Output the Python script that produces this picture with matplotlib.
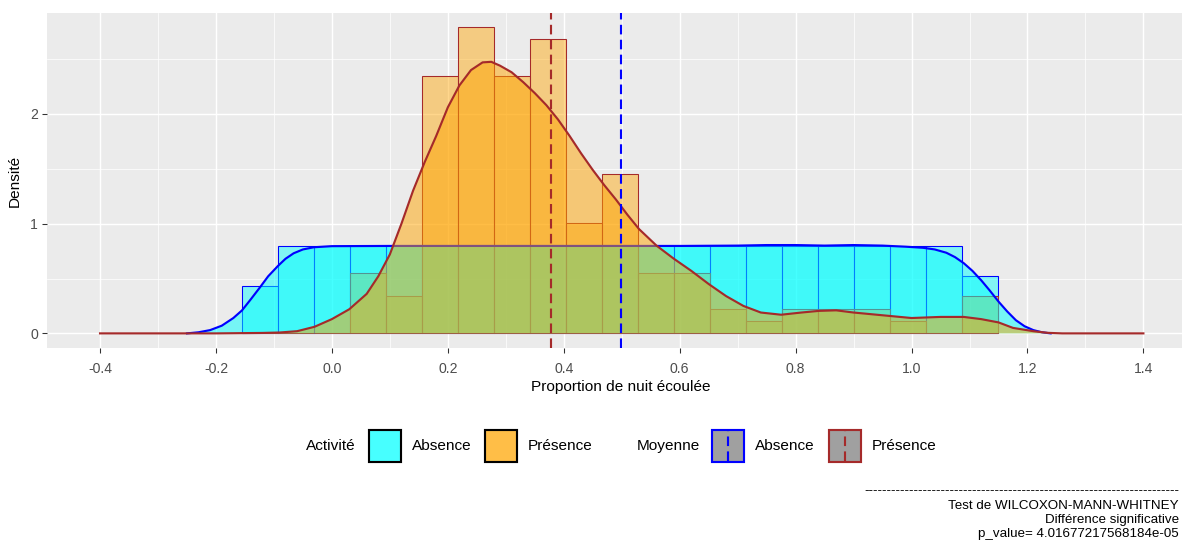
"""
Distribution of activity timing over the night: histogram + density
for nights with/without presence, with group means and the WMW test result.
"""

import numpy as np
import matplotlib.pyplot as plt
from matplotlib.patches import Rectangle
from matplotlib.lines import Line2D
from matplotlib.colors import to_rgba

plt.rcParams['font.family'] = ['Liberation Sans', 'DejaVu Sans']
plt.rcParams['axes.unicode_minus'] = False

W, H, DPI = 1182, 542, 96

# Histogram bins (ggplot-style, 21 bins)
bin_start = -0.155
bin_width = 0.0621
n_bins = 21

absence_hist = [0.43, 0.80, 0.80, 0.80, 0.80, 0.80, 0.80, 0.80, 0.80, 0.80, 0.80,
                0.80, 0.80, 0.80, 0.80, 0.80, 0.80, 0.80, 0.80, 0.80, 0.52]
presence_hist = [0.0, 0.0, 0.0, 0.55, 0.34, 2.35, 2.79, 2.35, 2.68, 1.01, 1.45,
                 0.55, 0.55, 0.22, 0.11, 0.22, 0.22, 0.22, 0.11, 0.0, 0.34]

# Kernel density estimates
absence_dens_x = [-0.25, -0.23, -0.21, -0.19, -0.17, -0.155, -0.14, -0.124, -0.11, -0.093,
                  -0.08, -0.066, -0.05, -0.031, 0.0, 0.1, 0.2, 0.3, 0.4, 0.5, 0.6, 0.7,
                  0.75, 0.8, 0.85, 0.9, 0.95, 0.99, 1.02, 1.04, 1.06, 1.075, 1.09, 1.105,
                  1.12, 1.135, 1.15, 1.165, 1.18, 1.195, 1.21, 1.225, 1.24]
absence_dens_y = [0.0, 0.01, 0.03, 0.07, 0.14, 0.21, 0.31, 0.42, 0.52, 0.615,
                  0.68, 0.73, 0.765, 0.785, 0.795, 0.797, 0.797, 0.797, 0.797, 0.797, 0.797, 0.80,
                  0.805, 0.805, 0.80, 0.805, 0.80, 0.79, 0.78, 0.765, 0.735, 0.695, 0.64, 0.57,
                  0.485, 0.39, 0.29, 0.20, 0.12, 0.065, 0.03, 0.01, 0.0]

presence_dens_x = [-0.40, -0.20, -0.12, -0.09, -0.06, -0.03, 0.0, 0.03, 0.06, 0.08, 0.10,
                   0.12, 0.14, 0.16, 0.18, 0.20, 0.22, 0.24, 0.26, 0.275, 0.29, 0.31,
                   0.33, 0.35, 0.37, 0.39, 0.41, 0.43, 0.45, 0.47, 0.49, 0.51, 0.53,
                   0.56, 0.59, 0.62, 0.65, 0.68, 0.71, 0.74, 0.775, 0.81, 0.84, 0.87,
                   0.90, 0.93, 0.96, 1.00, 1.05, 1.09, 1.12, 1.15, 1.175, 1.21, 1.235,
                   1.26, 1.40]
presence_dens_y = [0.0, 0.0, 0.004, 0.008, 0.02, 0.06, 0.13, 0.22, 0.36, 0.52, 0.72,
                   1.00, 1.30, 1.56, 1.80, 2.06, 2.26, 2.40, 2.47, 2.475, 2.44, 2.38,
                   2.29, 2.19, 2.08, 1.95, 1.80, 1.64, 1.49, 1.35, 1.22, 1.08, 0.95,
                   0.80, 0.68, 0.57, 0.45, 0.34, 0.25, 0.19, 0.17, 0.19, 0.205, 0.21,
                   0.19, 0.175, 0.16, 0.14, 0.15, 0.15, 0.13, 0.10, 0.05, 0.02, 0.005,
                   0.0, 0.0]

mean_absence = 0.499
mean_presence = 0.378

x_ticks = [-0.4, -0.2, 0.0, 0.2, 0.4, 0.6, 0.8, 1.0, 1.2, 1.4]
x_ticklabels = ['-0.4', '-0.2', '0.0', '0.2', '0.4', '0.6', '0.8', '1.0', '1.2', '1.4']
y_ticks = [0, 1, 2]

caption_lines = [
    '-' * 70,
    'Test de WILCOXON-MANN-WHITNEY',
    'Différence significative',
    'p_value= 4.01677217568184e-05',
]

COL_ABS = '#00FFFF'
COL_PRE = '#FFA500'
LINE_ABS = '#0000FF'
LINE_PRE = '#A52A2A'
PANEL_BG = '#EBEBEB'


def fx(px):
    return px / W


def fy(py):
    return 1 - py / H


def draw_panel(ax):
    ax.set_facecolor(PANEL_BG)
    for s in ax.spines.values():
        s.set_visible(False)

    edges = bin_start + bin_width * np.arange(n_bins)

    ax.bar(edges, absence_hist, width=bin_width, align='edge',
           facecolor=to_rgba(COL_ABS, 0.45), edgecolor=LINE_ABS, linewidth=0.8, zorder=2)
    ax.bar(edges, presence_hist, width=bin_width, align='edge',
           facecolor=to_rgba(COL_PRE, 0.45), edgecolor=LINE_PRE, linewidth=0.8, zorder=3)

    ax.fill_between(absence_dens_x, absence_dens_y, 0, facecolor=COL_ABS, alpha=0.5,
                    linewidth=0, zorder=4)
    ax.plot(absence_dens_x, absence_dens_y, color=LINE_ABS, linewidth=1.6, zorder=5)
    ax.fill_between(presence_dens_x, presence_dens_y, 0, facecolor=COL_PRE, alpha=0.5,
                    linewidth=0, zorder=6)
    ax.plot(presence_dens_x, presence_dens_y, color=LINE_PRE, linewidth=1.6, zorder=7)

    ax.axvline(mean_absence, color=LINE_ABS, linewidth=1.6, dashes=(4.5, 2.5), zorder=8)
    ax.axvline(mean_presence, color=LINE_PRE, linewidth=1.6, dashes=(4.5, 2.5), zorder=8)

    ax.set_xlim(-0.492, 1.489)
    ax.set_ylim(-0.136, 2.92)

    ax.set_xticks(x_ticks)
    ax.set_xticklabels(x_ticklabels)
    ax.set_xticks(np.array(x_ticks[:-1]) + 0.1, minor=True)
    ax.set_yticks(y_ticks)
    ax.set_yticks([0.5, 1.5, 2.5], minor=True)

    ax.grid(True, which='major', color='white', linewidth=1.1, zorder=0)
    ax.grid(True, which='minor', color='white', linewidth=0.55, zorder=0)
    ax.set_axisbelow(True)
    ax.tick_params(which='major', length=3.5, width=0.8, color='#333333',
                   labelsize=10.5, labelcolor='#4D4D4D')
    ax.tick_params(axis='x', which='major', pad=7)
    ax.tick_params(axis='y', which='major', pad=3)
    ax.tick_params(which='minor', length=0)

    ax.set_xlabel('Proportion de nuit écoulée', fontsize=11.5, labelpad=3)
    ax.set_ylabel('Densité', fontsize=11.5, labelpad=6)


def draw_legend(fig):
    yc = 446
    kh = 32
    txt = dict(fontsize=11.5, va='center', ha='left', color='black')

    fig.text(fx(306), fy(yc), 'Activité', **txt)
    for x0, col, lab in [(369, COL_ABS, 'Absence'), (485, COL_PRE, 'Présence')]:
        fig.add_artist(Rectangle((fx(x0), fy(yc + kh / 2)), fx(kh), kh / H,
                                 transform=fig.transFigure,
                                 facecolor=to_rgba(col, 0.72), edgecolor='black', linewidth=1.6))
        fig.text(fx(x0 + kh + 11), fy(yc), lab, **txt)

    fig.text(fx(637), fy(yc), 'Moyenne', **txt)
    for x0, col, lab in [(712, LINE_ABS, 'Absence'), (829, LINE_PRE, 'Présence')]:
        fig.add_artist(Rectangle((fx(x0), fy(yc + kh / 2)), fx(kh), kh / H,
                                 transform=fig.transFigure,
                                 facecolor='#A0A0A0', edgecolor=col, linewidth=1.6))
        xm = fx(x0 + kh / 2)
        fig.add_artist(Line2D([xm, xm], [fy(yc + kh / 2 - 1), fy(yc - kh / 2 + 1)],
                              transform=fig.transFigure, color=col, linewidth=1.6,
                              dashes=(4.5, 2.5)))
        fig.text(fx(x0 + kh + 11), fy(yc), lab, **txt)


def draw_caption(fig):
    ys = [491, 506, 520, 534]
    for line, yy in zip(caption_lines, ys):
        fig.text(fx(1179), fy(yy), line, fontsize=10, ha='right', va='center', color='black')


def main():
    fig = plt.figure(figsize=(W / DPI, H / DPI), dpi=DPI)
    fig.patch.set_facecolor('white')

    # panel runs slightly past the right edge of the canvas
    ax = fig.add_axes([fx(46.7), 1 - 348.3 / H, (1195 - 46.7) / W, (348.3 - 13) / H])
    draw_panel(ax)
    draw_legend(fig)
    draw_caption(fig)

    fig.savefig('out.png', dpi=DPI)
    plt.close(fig)


if __name__ == '__main__':
    main()
